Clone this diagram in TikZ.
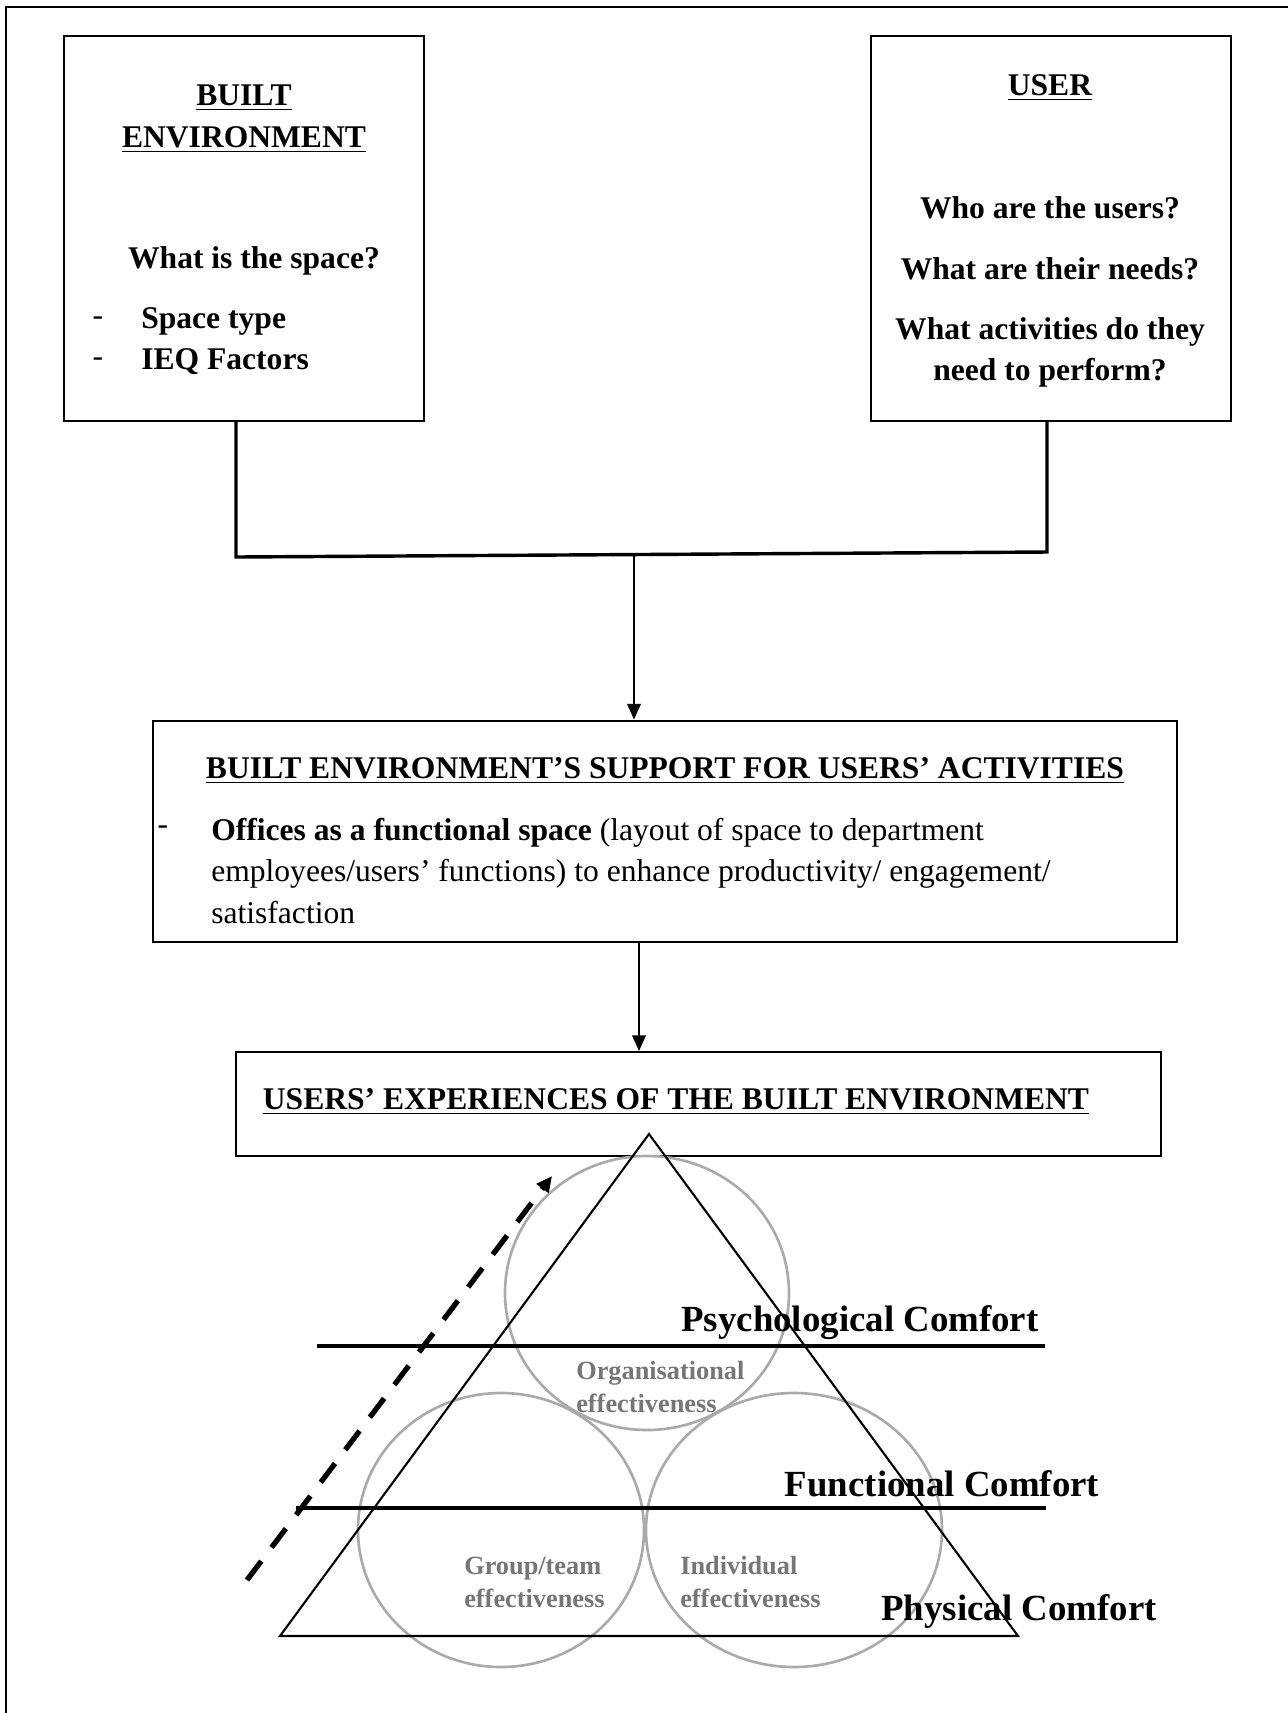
\documentclass[tikz,border=0pt]{standalone}
\usepackage{fontspec}
\setmainfont{Liberation Serif}
\usepackage{tikz}
\usetikzlibrary{positioning,arrows.meta,fit}
\definecolor{ringgray}{RGB}{170,170,170}
\definecolor{labelgray}{RGB}{118,118,118}

\begin{document}
\begin{tikzpicture}[x=0.38pt, y=-0.38pt,
        box/.style={draw, line width=0.9pt, inner sep=0pt},
        conn/.style={line width=1.3pt},
        arr/.style={line width=1.1pt, -{Triangle[length=6pt,width=5pt]}},
        hd/.style={font=\fontsize{12}{15.6}\selectfont\bfseries, align=center},
        item/.style={font=\fontsize{12}{15.6}\selectfont\bfseries, anchor=west},
        level/.style={line width=1.6pt},
        comfort/.style={font=\fontsize{14}{16}\selectfont\bfseries},
        ring/.style={draw=ringgray, line width=1pt},
        eff/.style={font=\fontsize{10}{12.5}\selectfont\bfseries, text=labelgray,
                    align=left, anchor=west}
      ]
        \useasboundingbox (0,0) rectangle (1288,1713);
        \draw[line width=0.8pt] (6,1713) -- (6,7) -- (1288,7);

        \node[box, fit={(64,36) (424,421)}] (envbox) {};
        \node[box, fit={(871,36) (1231,421)}] (userbox) {};
        \node[box, line width=1pt, fit={(153,721) (1177,942)}] (supbox) {};
        \node[box, line width=0.6pt, fit={(236,1052) (1161,1156)}] (expbox) {};

        \node[hd] (envtitle) at (244,119) {\underline{BUILT}\\\underline{ENVIRONMENT}};
        \node[hd] (spaceq) at (254,261) {What is the space?};
        \node[font=\fontsize{12}{14}\selectfont] at (98,321) {-};
        \node[font=\fontsize{12}{14}\selectfont] at (98,362) {-};
        \node[item] (spacetype) at (132,321) {Space type};
        \node[item] (ieq) at (132,362) {IEQ Factors};

        \node[hd] (usertitle) at (1050,88) {\underline{USER}};
        \node[hd] (whoq) at (1050,208) {Who are the users?};
        \node[hd] (needq) at (1050,269) {What are their needs?};
        \node[hd] (actq) at (1050,352) {What activities do they\\need to perform?};

        \node[hd] (suptitle) at (665,771)
              {\underline{BUILT ENVIRONMENT'S SUPPORT FOR USERS' ACTIVITIES}};
        \node[font=\fontsize{12}{14}\selectfont] at (163,830) {-};
        \node[anchor=west, align=left, font=\fontsize{12}{15.6}\selectfont] (suptext) at (202,871)
              {\textbf{Offices as a functional space} (layout of space to department\\
               employees/users' functions) to enhance productivity/ engagement/\\
               satisfaction};

        \node[hd] (exptitle) at (676,1102)
              {\underline{USERS' EXPERIENCES OF THE BUILT ENVIRONMENT}};

        \coordinate (jl) at (236,557);
        \coordinate (jr) at (1047,552);
        \coordinate (jm) at (634,555);
        \coordinate (jd) at (639,0);
        \draw[conn] (envbox.south -| jl) -- (jl) -- (jr) -- (userbox.south -| jr);
        \draw[arr] (jm) -- (supbox.north -| jm);
        \draw[arr] (supbox.south -| jd) -- (expbox.north -| jd);

        \draw[ring] (647,1293) ellipse [x radius=142, y radius=137];
        \draw[ring] (501,1530) ellipse [x radius=143, y radius=137];
        \draw[ring] (794,1530) ellipse [x radius=148, y radius=137];
        \draw[line width=0.8pt] (649,1134) -- (1018,1636) -- (280,1636) -- cycle;
        \draw[level] (317,1346) -- (1045,1346);
        \draw[level] (296,1508) -- (1046,1508);

        \node[comfort] (psych) at (860,1323) {Psychological Comfort};
        \node[comfort] (func) at (942,1484) {Functional Comfort};
        \node[comfort] (phys) at (1019,1611) {Physical Comfort};

        \node[eff] (orgeff) at (567,1387) {Organisational\\effectiveness};
        \node[eff] (grpeff) at (455,1582) {Group/team\\effectiveness};
        \node[eff] (indeff) at (671,1582) {Individual\\effectiveness};

        \coordinate (risebot) at (247,1580);
        \coordinate (risetop) at (552,1176);
        \draw[line width=2pt, dash pattern=on 9pt off 6.5pt,
              -{Triangle[length=6pt,width=5.5pt]}] (risebot) -- (risetop);
      \end{tikzpicture}
\end{document}
